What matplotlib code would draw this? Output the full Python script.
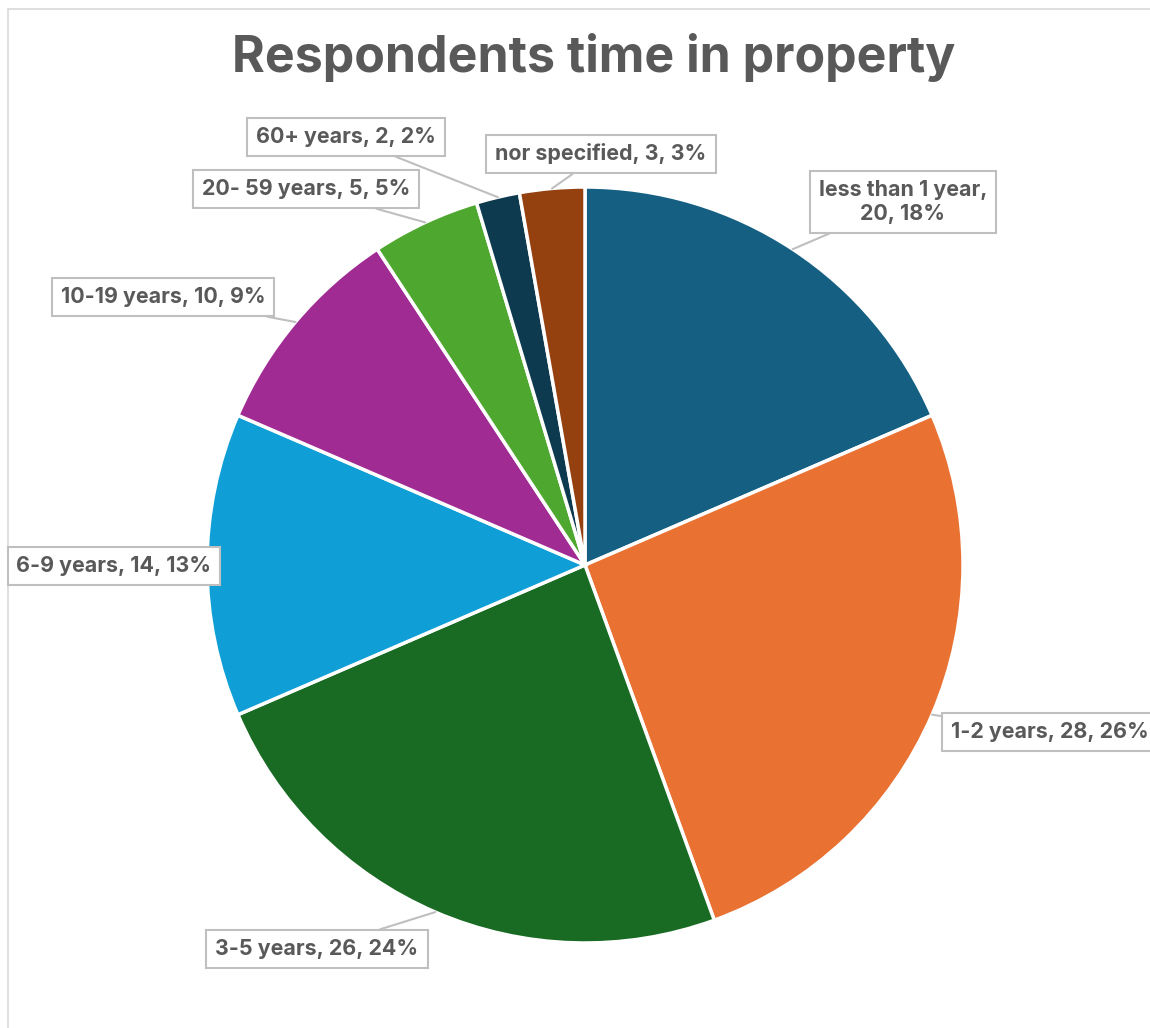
import matplotlib
matplotlib.use('Agg')
import matplotlib.pyplot as plt
import numpy as np
from matplotlib.patches import Rectangle

# -----------------------------
# Data
# -----------------------------
categories = ['less than 1 year', '1-2 years', '3-5 years', '6-9 years',
              '10-19 years', '20- 59 years', '60+ years', 'nor specified']
counts = [20, 28, 26, 14, 10, 5, 2, 3]
percents = [18, 26, 24, 13, 9, 5, 2, 3]   # as printed on the chart
colors = ['#156082', '#E97132', '#196B24', '#0F9ED5',
          '#A02B93', '#4EA72E', '#0E3A4F', '#95400F']

# label box centres in pixels (x, y from top), and alignment
label_pos = [(903, 202), (951, 732), (317, 949), (114, 566),
             (163, 297), (306, 189), (346, 137), (601, 154)]
label_ha = ['center', 'left', 'center', 'center',
            'center', 'center', 'center', 'center']

W, H = 1150, 1028
CX, CY, R = 585, 565, 378
TXT = '#595959'


def Y(py):
    return H - py


plt.rcParams['font.family'] = ['Inter', 'DejaVu Sans']

fig = plt.figure(figsize=(W / 100, H / 100), dpi=100)
ax = fig.add_axes([0, 0, 1, 1])

wedges, _ = ax.pie(counts, colors=colors, startangle=90, counterclock=False,
                   center=(CX, Y(CY)), radius=R,
                   wedgeprops=dict(edgecolor='white', linewidth=2.5))
ax.set_xlim(0, W)
ax.set_ylim(0, H)
ax.set_aspect('equal')
ax.axis('off')

# chart frame
ax.add_patch(Rectangle((8, -20), W + 40, Y(9) + 20, fill=False,
                       edgecolor='#D9D9D9', linewidth=1.2, clip_on=False))

ax.text(594, Y(58), 'Respondents time in property', ha='center', va='center',
        fontsize=36, fontweight='bold', color=TXT)

for w, cat, val, pct, (lx, ly), ha in zip(wedges, categories, counts, percents,
                                          label_pos, label_ha):
    mid = np.deg2rad((w.theta1 + w.theta2) / 2)
    px = CX + R * np.cos(mid)
    py = Y(CY) + R * np.sin(mid)
    if cat == 'less than 1 year':
        txt = f'{cat},\n{val}, {pct}%'
    else:
        txt = f'{cat}, {val}, {pct}%'
    ax.annotate(txt, xy=(px, py), xytext=(lx, Y(ly)), ha=ha, va='center',
                multialignment='center', fontsize=15.4, fontweight='bold', color=TXT,
                bbox=dict(boxstyle='square,pad=0.42', fc='white', ec='#BFBFBF', lw=1.5),
                arrowprops=dict(arrowstyle='-', color='#BFBFBF', lw=1.5,
                                shrinkA=0, shrinkB=0))

fig.savefig('out.png', dpi=100)
